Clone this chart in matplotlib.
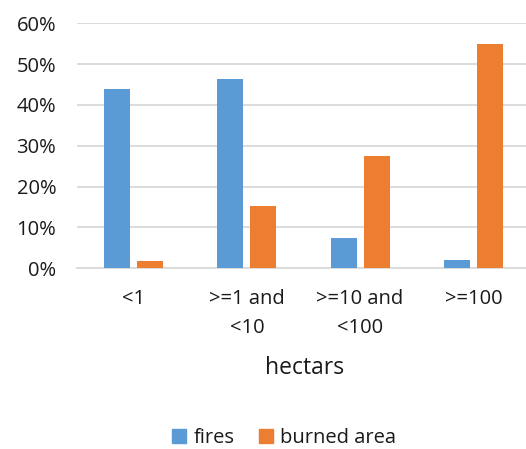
import numpy as np
import matplotlib.pyplot as plt
from matplotlib.patches import Patch

plt.rcParams['font.family'] = ['Open Sans', 'DejaVu Sans']

# data
categories = ['<1', '>=1 and\n<10', '>=10 and\n<100', '>=100']
fires = [0.438, 0.463, 0.074, 0.020]
burned_area = [0.019, 0.153, 0.276, 0.550]

blue = '#5B9BD5'
orange = '#ED7D31'
text_col = '#1a1a1a'
grid_col = '#D9D9D9'

fig = plt.figure(figsize=(5.26, 4.49), dpi=100)
ax = fig.add_axes([77 / 526, 1 - 268.3 / 449, 453 / 526, 245.1 / 449])

x = np.arange(len(categories))
w = 0.23
off = 0.146
ax.bar(x - off, fires, w, color=blue, zorder=3)
ax.bar(x + off, burned_area, w, color=orange, zorder=3)

ax.set_xlim(-0.5, len(categories) - 0.5)
ax.set_ylim(0, 0.6)
ax.set_yticks(np.arange(0, 0.61, 0.1))
ax.set_yticklabels(['{:.0f}%'.format(v * 100) for v in np.arange(0, 0.61, 0.1)])
ax.set_xticks(x)
ax.set_xticklabels(categories, linespacing=1.6)
ax.yaxis.grid(True, color=grid_col, linewidth=1.3, zorder=0)
for s in ['top', 'right', 'left']:
    ax.spines[s].set_visible(False)
ax.spines['bottom'].set_color(grid_col)
ax.spines['bottom'].set_linewidth(1.3)
ax.tick_params(axis='both', length=0, labelsize=14.5, colors=text_col)
ax.tick_params(axis='y', pad=15)
ax.tick_params(axis='x', pad=15)

fig.text(305 / 526, 1 - 368 / 449, 'hectars', ha='center', va='center',
         fontsize=16.5, color=text_col)

handles = [Patch(color=blue, label='fires'), Patch(color=orange, label='burned area')]
fig.legend(handles=handles, loc='center', bbox_to_anchor=(284 / 526, 1 - 438 / 449),
           ncol=2, frameon=False, fontsize=14.5, handlelength=0.7, handleheight=0.7,
           handletextpad=0.35, columnspacing=1.2, labelcolor=text_col)

fig.savefig('out.png', dpi=100)
